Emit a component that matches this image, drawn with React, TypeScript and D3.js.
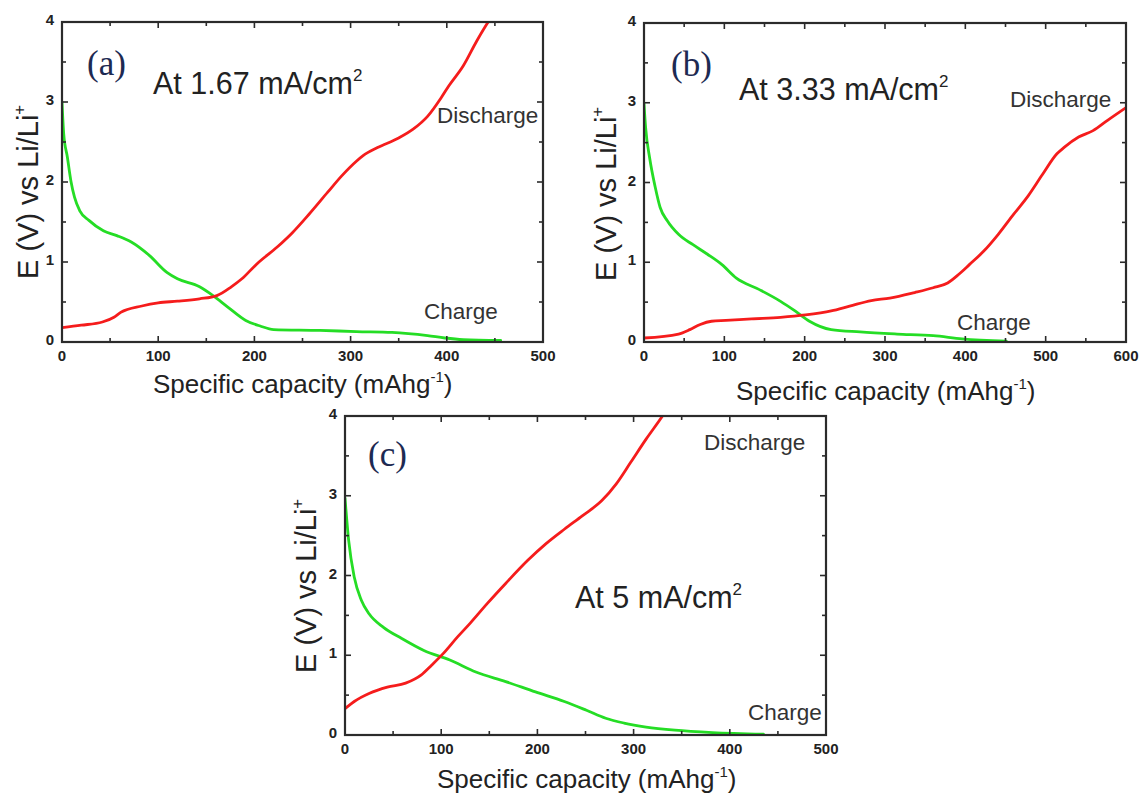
import React from "react";
import * as d3 from "d3";

// ---- data ----
const xTicksA = [0, 100, 200, 300, 400, 500];
const xTicksB = [0, 100, 200, 300, 400, 500, 600];
const xTicksC = [0, 100, 200, 300, 400, 500];
const yTicks = [0, 1, 2, 3, 4];

const dischargeA: [number, number][] = [[0,0.18],[20,0.21],[42,0.25],[54,0.31],[61,0.37],[83,0.45],[100,0.49],[120,0.51],[143,0.54],[161,0.58],[176,0.69],[187,0.79],[202,0.97],[224,1.19],[239,1.36],[257,1.60],[276,1.87],[291,2.08],[306,2.26],[313,2.33],[328,2.43],[350,2.55],[365,2.66],[380,2.82],[394,3.05],[402,3.20],[417,3.45],[431,3.76],[443,4.0],[452,4.15]];
const chargeA: [number, number][] = [[0,3.0],[1.8,2.6],[5.6,2.31],[9.3,2.01],[13,1.81],[18.5,1.64],[28,1.52],[43,1.39],[57,1.33],[72,1.25],[91,1.08],[109,0.87],[120,0.79],[143,0.69],[157,0.58],[172,0.44],[191,0.27],[206,0.20],[220,0.155],[268,0.145],[306,0.13],[343,0.12],[380,0.08],[398,0.05],[417,0.03],[456,0.02]];

const dischargeB: [number, number][] = [[0,0.05],[43,0.10],[57,0.155],[70,0.22],[84,0.26],[102,0.27],[134,0.29],[170,0.31],[201,0.34],[233,0.39],[256,0.45],[283,0.52],[306,0.55],[337,0.62],[360,0.68],[378,0.74],[392,0.85],[405,0.97],[423,1.14],[441,1.35],[460,1.60],[478,1.83],[496,2.10],[514,2.36],[523,2.44],[541,2.57],[559,2.65],[577,2.78],[600,2.94]];
const chargeB: [number, number][] = [[0,2.99],[2,2.69],[7,2.31],[14,1.94],[20,1.69],[29,1.52],[43,1.35],[61,1.22],[79,1.10],[97,0.97],[115,0.80],[143,0.66],[170,0.51],[188,0.39],[206,0.26],[233,0.155],[269,0.126],[315,0.10],[360,0.08],[396,0.04],[451,0.01]];

const dischargeC: [number, number][] = [[0,0.33],[9.6,0.42],[25,0.52],[44,0.60],[63,0.65],[79,0.75],[90,0.875],[102,1.02],[117,1.23],[130,1.40],[148,1.65],[167,1.90],[190,2.19],[209,2.40],[228,2.58],[247,2.75],[267,2.94],[282,3.15],[297,3.42],[313,3.71],[330,4.0],[338,4.15]];
const chargeC: [number, number][] = [[0,2.97],[3.8,2.44],[9.6,1.98],[17,1.69],[25,1.52],[40,1.35],[59,1.21],[82,1.06],[109,0.94],[136,0.79],[167,0.67],[198,0.54],[228,0.42],[251,0.31],[271,0.21],[290,0.15],[313,0.10],[343,0.06],[382,0.03],[435,0.01]];

const panelLabels = ["(a)", "(b)", "(c)"];
const rateLabels = ["At 1.67 mA/cm", "At 3.33 mA/cm", "At 5 mA/cm"];

// ---- layout ----
const panels = [
  { id: "a", label: panelLabels[0], rate: rateLabels[0], xTicks: xTicksA, discharge: dischargeA, charge: chargeA,
    l: 62, r: 543, t: 22, b: 342,
    lab: [87, 75], rateAt: [153, 94], dis: [437, 123], chg: [424, 319], yLab: [38, 279], xLab: [153, 393] },
  { id: "b", label: panelLabels[1], rate: rateLabels[1], xTicks: xTicksB, discharge: dischargeB, charge: chargeB,
    l: 644, r: 1126, t: 23, b: 342,
    lab: [671, 76], rateAt: [739, 100], dis: [1010, 107], chg: [957, 330], yLab: [616, 281], xLab: [736, 400] },
  { id: "c", label: panelLabels[2], rate: rateLabels[2], xTicks: xTicksC, discharge: dischargeC, charge: chargeC,
    l: 345, r: 826, t: 416, b: 735,
    lab: [368, 466], rateAt: [575, 608], dis: [704, 450], chg: [748, 720], yLab: [316, 673], xLab: [437, 788] },
];

const SANS = "'Liberation Sans', Arial, Helvetica, sans-serif";
const SERIF = "'Liberation Serif', 'Times New Roman', serif";
const AXIS = "#2b2b2b";

function Panel({ p }: { p: (typeof panels)[number] }) {
  const xMax = p.xTicks[p.xTicks.length - 1];
  const x = d3.scaleLinear().domain([0, xMax]).range([p.l, p.r]);
  const y = d3.scaleLinear().domain([0, 4]).range([p.b, p.t]);
  const line = d3
    .line<[number, number]>()
    .x((d) => x(d[0]))
    .y((d) => y(d[1]))
    .curve(d3.curveMonotoneX);
  const xMinor = p.xTicks.slice(0, -1).map((v, i) => (v + p.xTicks[i + 1]) / 2);
  const yMinor = yTicks.slice(0, -1).map((v, i) => (v + yTicks[i + 1]) / 2);
  const clipId = `clip-${p.id}`;
  const MJ = 6, MN = 4;
  return (
    <g>
      <defs>
        <clipPath id={clipId}>
          <rect x={p.l} y={p.t} width={p.r - p.l} height={p.b - p.t} />
        </clipPath>
      </defs>
      <g clipPath={`url(#${clipId})`} fill="none" strokeWidth={2.8} strokeLinejoin="round" strokeLinecap="round">
        <path d={line(p.charge) || ""} stroke="#25dd25" />
        <path d={line(p.discharge) || ""} stroke="#f51c1c" />
      </g>
      {/* ticks */}
      <g stroke={AXIS} strokeWidth={1.6}>
        {p.xTicks.map((v) => (
          <g key={"xt" + v}>
            <line x1={x(v)} x2={x(v)} y1={p.b} y2={p.b - MJ} />
            <line x1={x(v)} x2={x(v)} y1={p.t} y2={p.t + MJ} />
          </g>
        ))}
        {xMinor.map((v) => (
          <g key={"xm" + v}>
            <line x1={x(v)} x2={x(v)} y1={p.b} y2={p.b - MN} />
            <line x1={x(v)} x2={x(v)} y1={p.t} y2={p.t + MN} />
          </g>
        ))}
        {yTicks.map((v) => (
          <g key={"yt" + v}>
            <line x1={p.l} x2={p.l + MJ} y1={y(v)} y2={y(v)} />
            <line x1={p.r} x2={p.r - MJ} y1={y(v)} y2={y(v)} />
          </g>
        ))}
        {yMinor.map((v) => (
          <g key={"ym" + v}>
            <line x1={p.l} x2={p.l + MN} y1={y(v)} y2={y(v)} />
            <line x1={p.r} x2={p.r - MN} y1={y(v)} y2={y(v)} />
          </g>
        ))}
      </g>
      <rect x={p.l} y={p.t} width={p.r - p.l} height={p.b - p.t} fill="none" stroke={AXIS} strokeWidth={2.2} />
      {/* tick labels */}
      <g fontFamily={SANS} fontWeight="bold" fontSize={15} fill="#222">
        {p.xTicks.map((v) => (
          <text key={"xl" + v} x={x(v)} y={p.b + 19} textAnchor="middle">{v}</text>
        ))}
        {yTicks.map((v) => (
          <text key={"yl" + v} x={p.l - 8} y={y(v) + 3} textAnchor="end">{v}</text>
        ))}
      </g>
      {/* axis titles */}
      <text x={p.xLab[0]} y={p.xLab[1]} fontFamily={SANS} fontSize={26} fill="#222">
        Specific capacity (mAhg<tspan dy={-11} fontSize={15}>-1</tspan><tspan dy={11}>)</tspan>
      </text>
      <text transform={`translate(${p.yLab[0]},${p.yLab[1]}) rotate(-90)`} fontFamily={SANS} fontSize={29} fill="#222">
        E (V) vs Li/Li<tspan dy={-13} fontSize={17}>+</tspan>
      </text>
      {/* annotations */}
      <text x={p.lab[0]} y={p.lab[1]} fontFamily={SERIF} fontSize={35} fill="#1d2a52">{p.label}</text>
      <text x={p.rateAt[0]} y={p.rateAt[1]} fontFamily={SANS} fontSize={30.5} fill="#222">
        {p.rate}<tspan dy={-13} fontSize={17}>2</tspan>
      </text>
      <text x={p.dis[0]} y={p.dis[1]} fontFamily={SANS} fontSize={22.5} fill="#333">Discharge</text>
      <text x={p.chg[0]} y={p.chg[1]} fontFamily={SANS} fontSize={22.5} fill="#333">Charge</text>
    </g>
  );
}

export default function App() {
  return (
    <svg
      width={1141}
      height={795}
      viewBox="0 0 1141 795"
      style={{ position: "absolute", left: 0, top: 0, background: "#fff" }}
    >
      <rect width={1141} height={795} fill="#fff" />
      {panels.map((p) => (
        <Panel key={p.id} p={p} />
      ))}
    </svg>
  );
}
